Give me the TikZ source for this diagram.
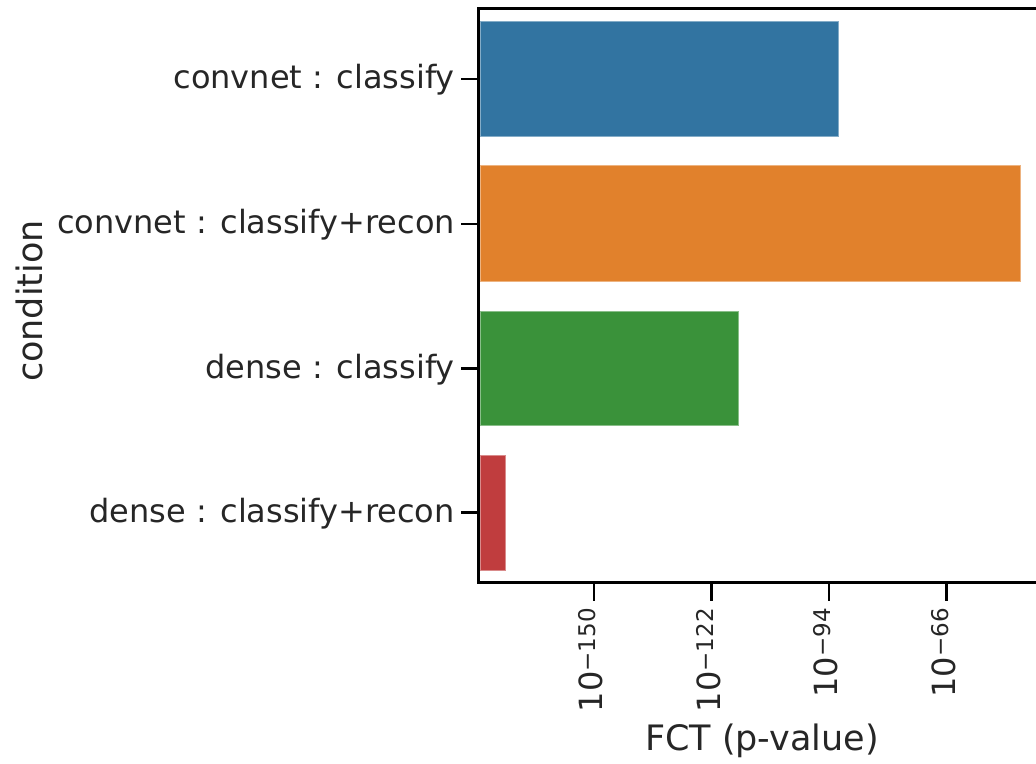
\documentclass[tikz,border=0pt]{standalone}
\usepackage{fontspec}
\setmainfont{DejaVu Sans}
\definecolor{barblue}{RGB}{50,116,161}
\definecolor{barorange}{RGB}{225,129,44}
\definecolor{bargreen}{RGB}{58,146,58}
\definecolor{barred}{RGB}{192,61,62}
\newcommand{\pexp}[1]{10\raisebox{7pt}{\fontsize{23}{23}\selectfont −#1}}
\tikzset{
    bar/.style={draw=#1!60!white, line width=0.8pt, fill=#1},
    ticklab/.style={font=\fontsize{32}{38}\selectfont, inner sep=0pt, text=black!85},
    axislab/.style={font=\fontsize{35}{42}\selectfont, inner sep=0pt, text=black!85},
    spine/.style={line width=3pt, line cap=rect},
}
\begin{document}
\begin{tikzpicture}[x=1pt, y=-1pt]
        \useasboundingbox (0,0) rectangle (1036,763);
        % bars
        \draw[bar=barblue] (480,21) rectangle (838,136);
        \draw[bar=barorange] (480,165.5) rectangle (1020,281);
        \draw[bar=bargreen] (480,311) rectangle (738,425.5);
        \draw[bar=barred] (480,455) rectangle (505,570);
        % spines
        \draw[spine] (1036,8) -- (478.5,8) -- (478.5,582.5) -- (1036,582.5) ;
        % y ticks
        \foreach \y/\lab [count=\i] in {79/convnet : classify, 224/convnet : classify+recon, 368.5/dense : classify, 512.5/dense : classify+recon} {
            \draw[line width=2.5pt] (461,\y) -- (478.5,\y) ;
            \node[ticklab, anchor=east] (cat\i) at (455,\y+1) {\lab};
        }
        % x ticks
        \foreach \x/\e [count=\i] in {594/150, 711.5/122, 829/94, 946.5/66} {
            \draw[line width=2.5pt] (\x,582.5) -- (\x,601) ;
            \node[ticklab, rotate=90, anchor=east] (xt\i) at (\x-3,608) {\pexp{\e}};
        }
        \node[axislab, anchor=base] (xlab) at (762,750) {FCT (p-value)};
        \node[axislab, rotate=90, anchor=base] (ylab) at (42,301) {condition};
\end{tikzpicture}
\end{document}
